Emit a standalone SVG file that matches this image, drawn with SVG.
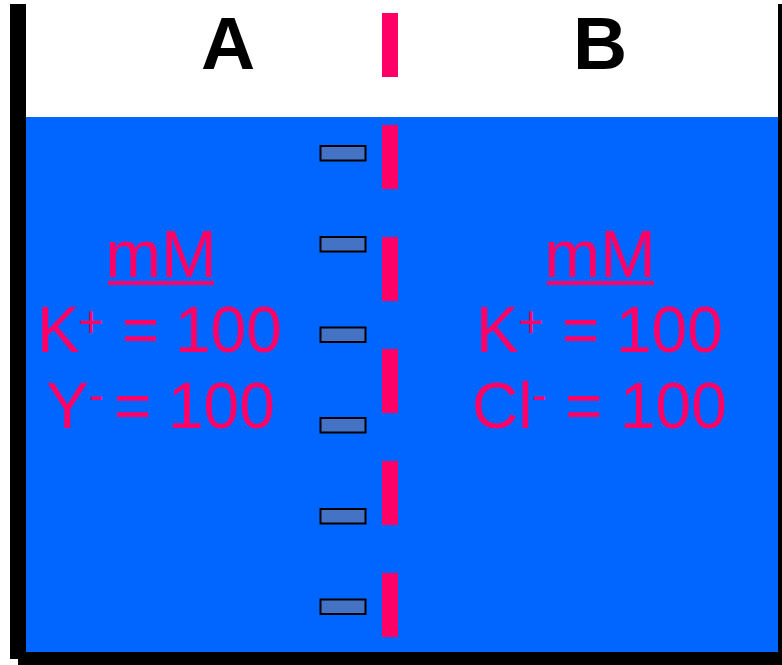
<svg xmlns="http://www.w3.org/2000/svg" width="782" height="665" viewBox="0 0 782 665">
  <style>
    .wall { fill: #000000; }
    .water { fill: #0066FF; }
    .membrane { fill: #FF0066; }
    .pore { fill: #4472C4; stroke: #000000; stroke-width: 2; }
    .side { font-family: "Liberation Sans", Arial, sans-serif; font-weight: bold; font-size: 75px; fill: #000000; text-anchor: middle; }
    .conc { font-family: "Liberation Sans", Arial, sans-serif; font-size: 64px; fill: #FF0066; }
    .unit { font-size: 67px; }
    .sup { font-size: 44px; }
  </style>
  <rect width="782" height="665" fill="#FFFFFF"/>

  <!-- container -->
  <g id="container">
    <rect class="water" x="26" y="117" width="752" height="535"/>
    <rect class="wall" x="10" y="4" width="16" height="655"/>
    <rect class="wall" x="18" y="652" width="764" height="13"/>
    <rect class="wall" x="778" y="4" width="4" height="661"/>
  </g>

  <!-- membrane -->
  <g id="membrane">
    <rect class="membrane" x="382" y="13" width="16" height="64"/>
    <rect class="membrane" x="382" y="125" width="16" height="64"/>
    <rect class="membrane" x="382" y="237" width="16" height="64"/>
    <rect class="membrane" x="382" y="349" width="16" height="64"/>
    <rect class="membrane" x="382" y="461" width="16" height="64"/>
    <rect class="membrane" x="382" y="573" width="16" height="64"/>
  </g>

  <!-- pores -->
  <g id="pores">
    <rect class="pore" x="320.5" y="146" width="45" height="14.5"/>
    <rect class="pore" x="320.5" y="237" width="45" height="14.5"/>
    <rect class="pore" x="320.5" y="327.5" width="45" height="14.5"/>
    <rect class="pore" x="320.5" y="418" width="45" height="14.5"/>
    <rect class="pore" x="320.5" y="509" width="45" height="14.5"/>
    <rect class="pore" x="320.5" y="599.5" width="45" height="14.5"/>
  </g>

  <!-- side labels -->
  <g id="label-a"><text class="side" x="228" y="69">A</text></g>
  <g id="label-b"><text class="side" x="600" y="69">B</text></g>

  <!-- compartment A -->
  <g id="side-a">
    <text class="conc unit" x="161" y="277" text-anchor="middle">mM</text>
    <rect class="membrane" x="108" y="281" width="106" height="4"/>
    <text class="conc" y="352"><tspan x="37">K</tspan><tspan class="sup" x="78" dy="-15">+</tspan><tspan x="122" dy="15">=</tspan><tspan x="175">100</tspan></text>
    <text class="conc" y="428"><tspan x="46">Y</tspan><tspan class="sup" x="89" dy="-18">-</tspan><tspan x="114" dy="18">=</tspan><tspan x="168">100</tspan></text>
  </g>

  <!-- compartment B -->
  <g id="side-b">
    <text class="conc unit" x="600" y="277" text-anchor="middle">mM</text>
    <rect class="membrane" x="547" y="281" width="107" height="4"/>
    <text class="conc" y="352"><tspan x="476">K</tspan><tspan class="sup" x="518" dy="-15">+</tspan><tspan x="562" dy="15">=</tspan><tspan x="616">100</tspan></text>
    <text class="conc" y="428"><tspan x="472">Cl</tspan><tspan class="sup" x="532" dy="-18">-</tspan><tspan x="565" dy="18">=</tspan><tspan x="620">100</tspan></text>
  </g>
</svg>
